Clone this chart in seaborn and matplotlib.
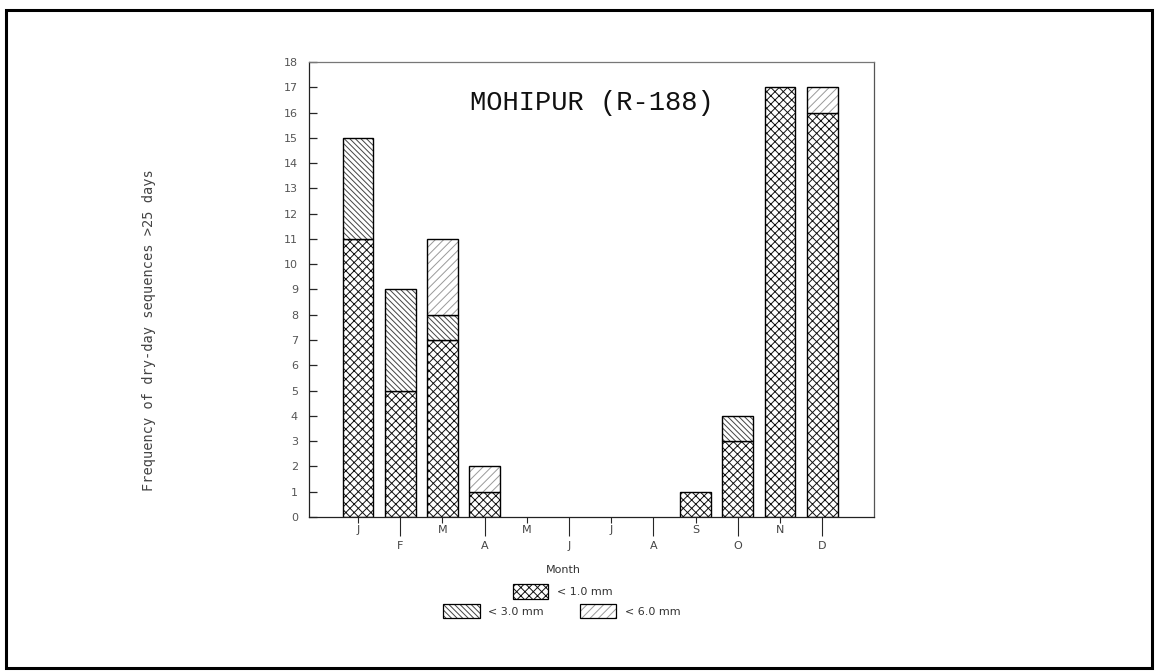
import numpy as np
import pandas as pd
import matplotlib
matplotlib.use("Agg")
import matplotlib.pyplot as plt
from matplotlib.colors import to_rgba
from matplotlib.patches import Patch, Rectangle
from matplotlib.ticker import FixedLocator, FixedFormatter
import seaborn as sns

# Monthly frequency of dry-day sequences longer than 25 days, by rainfall threshold
months = ["Jan", "Feb", "Mar", "Apr", "May", "Jun",
          "Jul", "Aug", "Sep", "Oct", "Nov", "Dec"]
month_initials = ["J", "F", "M", "A", "M", "J", "J", "A", "S", "O", "N", "D"]
lt_1mm = [11, 5, 7, 1, 0, 0, 0, 0, 1, 3, 17, 16]
lt_3mm = [4, 4, 1, 0, 0, 0, 0, 0, 0, 1, 0, 0]
lt_6mm = [0, 0, 3, 1, 0, 0, 0, 0, 0, 0, 0, 1]
series_labels = ["< 1.0 mm", "< 3.0 mm", "< 6.0 mm"]
y_ticks = list(range(0, 19))

sns.set_style("white")
plt.rcParams["hatch.linewidth"] = 0.7
plt.rcParams["font.family"] = ["DejaVu Sans"]

df = pd.DataFrame({"month": months, "lt1": lt_1mm, "lt3": lt_3mm, "lt6": lt_6mm})

fig = plt.figure(figsize=(11.56, 6.72), dpi=100)
ax = fig.add_axes([0.2673, 0.2307, 0.4888, 0.677])

layers = [("lt1", "xxxx", "#111111"),
          ("lt3", "\\" * 6, "#444444"),
          ("lt6", "////", "#9a9a9a")]
bottoms = np.zeros(len(months))
for col, hatch, hcol in layers:
    start = len(ax.patches)
    sns.barplot(data=df, x="month", y=col, order=months, bottom=bottoms,
                width=0.73, color="white", saturation=1, edgecolor="black",
                linewidth=1.0, hatch=hatch, errorbar=None, ax=ax)
    for p, v in zip(ax.patches[start:], df[col]):
        p._hatch_color = to_rgba(hcol)
        if v == 0:
            p.set_visible(False)
    bottoms = bottoms + df[col].to_numpy()

ax.set_xlim(-1.16, 11 + 1.23)
ax.set_ylim(0, 18)

# y axis: inward ticks at every integer
ax.set_yticks(y_ticks)
ax.set_yticklabels([str(t) for t in y_ticks])
ax.tick_params(axis="y", which="major", direction="in", length=6, width=0.9,
               pad=8, labelsize=8, labelcolor="#555555", left=True)

# x axis: alternate short/long ticks so the month initials stagger
ax.xaxis.set_major_locator(FixedLocator(list(range(0, 12, 2))))
ax.xaxis.set_major_formatter(FixedFormatter(month_initials[0::2]))
ax.xaxis.set_minor_locator(FixedLocator(list(range(1, 12, 2))))
ax.xaxis.set_minor_formatter(FixedFormatter(month_initials[1::2]))
ax.tick_params(axis="x", which="major", direction="out", length=4, width=0.8,
               pad=2, labelsize=8, labelcolor="#444444", bottom=True)
ax.tick_params(axis="x", which="minor", direction="out", length=14, width=0.8,
               pad=3, labelsize=8, labelcolor="#444444", bottom=True)

for side, sp in ax.spines.items():
    sp.set_visible(True)
    sp.set_color("#222222")
    sp.set_linewidth(0.9)
ax.spines["top"].set_color("#777777")
ax.spines["right"].set_color("#555555")

ax.set_xlabel("")
ax.set_ylabel("Frequency of dry-day sequences >25 days",
              family="DejaVu Sans Mono", fontsize=9.8, color="#444444")
ax.yaxis.set_label_coords(-0.27, 0.41)

ax.text(0.5, 0.91, "MOHIPUR (R-188)", transform=ax.transAxes,
        ha="center", va="center", family="Liberation Mono", fontsize=19.5,
        color="#111111")

fig.text(0.487, 0.152, "Month", ha="center", va="center", fontsize=8,
         color="#333333")

def legend_patch(hatch, hcol, label):
    p = Patch(facecolor="white", edgecolor="black", hatch=hatch,
              linewidth=0.9, label=label)
    p._hatch_color = to_rgba(hcol)
    return p

handles = [legend_patch(h, c, lab) for (_, h, c), lab in zip(layers, series_labels)]

leg1 = fig.legend(handles=handles[:1], loc="center", ncol=1,
                  bbox_to_anchor=(0.487, 0.1205), frameon=False, fontsize=8,
                  handlelength=3.1, handleheight=1.7, handletextpad=0.8,
                  labelcolor="#333333")
leg2 = fig.legend(handles=handles[1:], loc="center", ncol=2,
                  bbox_to_anchor=(0.486, 0.0908), frameon=False, fontsize=8,
                  handlelength=3.3, handleheight=1.6, handletextpad=0.8,
                  columnspacing=3.2, labelcolor="#333333")

# outer frame around the whole figure
fig.add_artist(Rectangle((6 / 1156, 4 / 672), 1146 / 1156, 658 / 672,
                         transform=fig.transFigure, fill=False,
                         edgecolor="black", linewidth=2.2))

fig.savefig("out.png", dpi=100)
